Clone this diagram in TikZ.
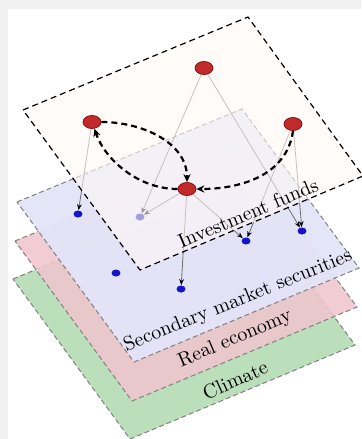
\documentclass[tikz,border=0pt]{standalone}
\usepackage{tikz}
\usetikzlibrary{shapes.geometric, arrows.meta, calc}
\pgfdeclarelayer{back}
\pgfdeclarelayer{veil}
\pgfdeclarelayer{front}
\pgfsetlayers{back,main,veil,front}
\definecolor{framegray}{RGB}{240,240,240}
\definecolor{fundfill}{RGB}{255,249,246}
\definecolor{secfill}{RGB}{228,228,248}
\definecolor{realfill}{RGB}{240,198,206}
\definecolor{climfill}{RGB}{180,219,180}
\definecolor{fundred}{RGB}{192,42,42}
\definecolor{fundborder}{RGB}{140,20,20}
\definecolor{assetblue}{RGB}{20,20,200}
\tikzset{
  plane/.style={draw=gray, line width=0.5pt, dash pattern=on 2.5pt off 1.5pt},
  topplane/.style={draw=black, line width=0.6pt, dash pattern=on 3pt off 2pt, fill=fundfill, fill opacity=0.6},
  fund/.style={ellipse, minimum width=9pt, minimum height=6.5pt, inner sep=0pt, draw=fundborder, fill=fundred},
  asset/.style={ellipse, minimum width=4.5pt, minimum height=3.5pt, inner sep=0pt, fill=assetblue},
  holds/.style={draw=gray!85!black, line width=0.4pt, -{Stealth[length=3pt, width=2.4pt, black]}},
  flow/.style={line width=1.1pt, dash pattern=on 3pt off 2pt, -{Stealth[length=4pt, width=3.6pt]}},
  layerlabel/.style={font=\normalsize, inner sep=0pt}
}
\begin{document}
\begin{tikzpicture}[x=0.5pt, y=-0.5pt]
  \useasboundingbox (0,0) rectangle (361,439);

  % Fondo y capas inferiores
  \begin{pgfonlayer}{back}
    \fill[framegray] (0,0) rectangle (361,439);
    \fill[white] (8,9) rectangle (361,439);
    \draw[plane, fill=climfill, fill opacity=0.9] (13,279) -- (238,186) -- (355,345) -- (130,439) -- cycle;
    \draw[plane, fill=realfill, fill opacity=0.88] (15,241) -- (240,148) -- (357,307) -- (132,401) -- cycle;
    \draw[plane, fill=secfill, fill opacity=0.96] (17,202) -- (242,109) -- (359,268) -- (134,362) -- cycle;
  \end{pgfonlayer}

  % Capa superior (semi transparente)
  \begin{pgfonlayer}{veil}
    \draw[topplane] (23,110) -- (248,17) -- (363,176) -- (140,270) -- cycle;
  \end{pgfonlayer}

  % Fondos de inversion
  \begin{pgfonlayer}{front}
    \node[fund] (ftop) at (204,68) {};
    \node[fund] (fleft) at (92,122) {};
    \node[fund] (fright) at (293,124) {};
    \node[fund] (fmid) at (187,189) {};
  \end{pgfonlayer}

  % Valores del mercado secundario
  \node[asset] (s1) at (78,214) {};
  \node[asset] (s2) at (140,217) {};
  \node[asset] (s3) at (246,241) {};
  \node[asset] (s4) at (302,231) {};
  \node[asset] (s5) at (116,273) {};
  \node[asset] (s6) at (181,289) {};

  % Tenencias
  \draw[holds] (fleft) -- (s1);
  \draw[holds] (ftop) -- (s2);
  \draw[holds] (ftop) -- (s4);
  \draw[holds] (fright) -- (s3);
  \draw[holds] (fright) -- (s4);
  \draw[holds] (fmid) -- (s2);
  \draw[holds] (fmid) -- (s6);
  \draw[holds] (fmid) -- (s3);

  % Interacciones entre fondos
  \begin{pgfonlayer}{front}
    \draw[flow] (fleft.east) .. controls +(40,0) and +(0,-40) .. (fmid.north);
    \draw[flow] (fmid.west) .. controls +(-40,0) and +(10,30) .. (fleft.-70);
    \draw[flow] (fright.south) .. controls +(-6,44) and +(45,0) .. (fmid.east);

    % Nombres de las capas
    \node[layerlabel, rotate=23] (lfunds) at (248,213) {Investment funds};
    \node[layerlabel, rotate=22] (lsec) at (238,301) {Secondary market securities};
    \node[layerlabel, rotate=23] (lreal) at (235,339) {Real economy};
    \node[layerlabel, rotate=24] (lclim) at (235,380) {Climate};
  \end{pgfonlayer}
\end{tikzpicture}
\end{document}
